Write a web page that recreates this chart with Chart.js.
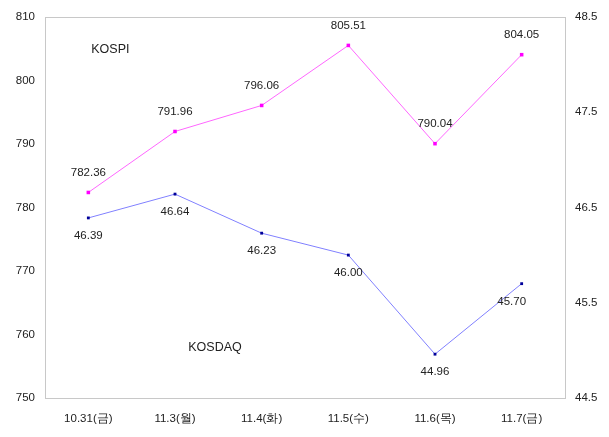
<!DOCTYPE html>
<html>
<head>
<meta charset="utf-8">
<script src="https://cdn.jsdelivr.net/npm/chart.js@4/dist/chart.umd.min.js"></script>
<style>
html,body{margin:0;padding:0;background:#fff;}
#wrap{width:609px;height:437px;}
</style>
</head>
<body>
<div id="wrap"><canvas id="c" width="609" height="437"></canvas></div>
<script>
const categories = ['10.31(금)', '11.3(월)', '11.4(화)', '11.5(수)', '11.6(목)', '11.7(금)'];
const kospiValues = [782.36, 791.96, 796.06, 805.51, 790.04, 804.05];
const kosdaqValues = [46.39, 46.64, 46.23, 46.00, 44.96, 45.70];
const leftTicks = [750, 760, 770, 780, 790, 800, 810];
const rightTicks = [44.5, 45.5, 46.5, 47.5, 48.5];

const FONT = '"Liberation Sans Narrow", "Liberation Sans", Arial, sans-serif';

const labelPlugin = {
  id: 'labels',
  afterDatasetsDraw(chart) {
    const ctx = chart.ctx;
    const a = chart.chartArea;
    ctx.save();
    ctx.strokeStyle = '#c8c8c8';
    ctx.lineWidth = 1;
    ctx.strokeRect(Math.round(a.left) + 0.5, Math.round(a.top) + 0.5, Math.round(a.right - a.left), Math.round(a.bottom - a.top));
    ctx.fillStyle = '#222';
    ctx.font = '11.5px ' + FONT;
    ctx.textAlign = 'center';
    ctx.textBaseline = 'middle';
    chart.getDatasetMeta(0).data.forEach((pt, i) => {
      ctx.fillText(kospiValues[i].toFixed(2), pt.x, pt.y - 20);
    });
    chart.getDatasetMeta(1).data.forEach((pt, i) => {
      const dx = i === kosdaqValues.length - 1 ? -10 : 0;
      ctx.fillText(kosdaqValues[i].toFixed(2), pt.x + dx, pt.y + 18);
    });
    ctx.font = '12.5px ' + FONT;
    const xs = chart.scales.x, ys = chart.scales.y;
    ctx.fillText('KOSPI', xs.getPixelForValue(0) + 22, ys.getPixelForValue(804.8));
    ctx.fillText('KOSDAQ', xs.getPixelForValue(1) + 40, ys.getPixelForValue(757.9));
    ctx.restore();
  }
};

new Chart(document.getElementById('c'), {
  type: 'line',
  data: {
    labels: categories,
    datasets: [
      {
        label: 'KOSPI',
        data: kospiValues,
        yAxisID: 'y',
        borderColor: '#ff66ff',
        backgroundColor: '#ff00ff',
        borderWidth: 1,
        pointStyle: 'rect',
        pointRadius: 2.5,
        pointBorderWidth: 0,
        tension: 0
      },
      {
        label: 'KOSDAQ',
        data: kosdaqValues,
        yAxisID: 'y1',
        borderColor: '#8080ff',
        backgroundColor: '#000099',
        borderWidth: 1,
        pointStyle: 'rect',
        pointRadius: 2,
        pointBorderWidth: 0,
        tension: 0
      }
    ]
  },
  options: {
    responsive: false,
    animation: false,
    devicePixelRatio: 1,
    layout: { padding: { top: 15, left: 0, right: 0, bottom: 0 } },
    plugins: { legend: { display: false }, tooltip: { enabled: false } },
    scales: {
      x: {
        offset: true,
        grid: { display: false, drawTicks: false, offset: true },
        border: { display: false },
        ticks: { color: '#222', font: { family: FONT, size: 11.5 }, padding: 14, maxRotation: 0 },
        afterFit(s) { s.height = 39; }
      },
      y: {
        position: 'left',
        min: 750, max: 810,
        afterBuildTicks(s) { s.ticks = leftTicks.map(v => ({ value: v })); },
        grid: { display: false, drawTicks: false },
        border: { display: false },
        ticks: { color: '#222', font: { family: FONT, size: 11.5 }, padding: 10 },
        afterFit(s) { s.width = 45; }
      },
      y1: {
        position: 'right',
        min: 44.5, max: 48.5,
        afterBuildTicks(s) { s.ticks = rightTicks.map(v => ({ value: v })); },
        grid: { display: false, drawTicks: false },
        border: { display: false },
        ticks: { color: '#222', font: { family: FONT, size: 11.5 }, padding: 10, callback: v => String(v) },
        afterFit(s) { s.width = 44; }
      }
    }
  },
  plugins: [labelPlugin]
});
</script>
</body>
</html>
